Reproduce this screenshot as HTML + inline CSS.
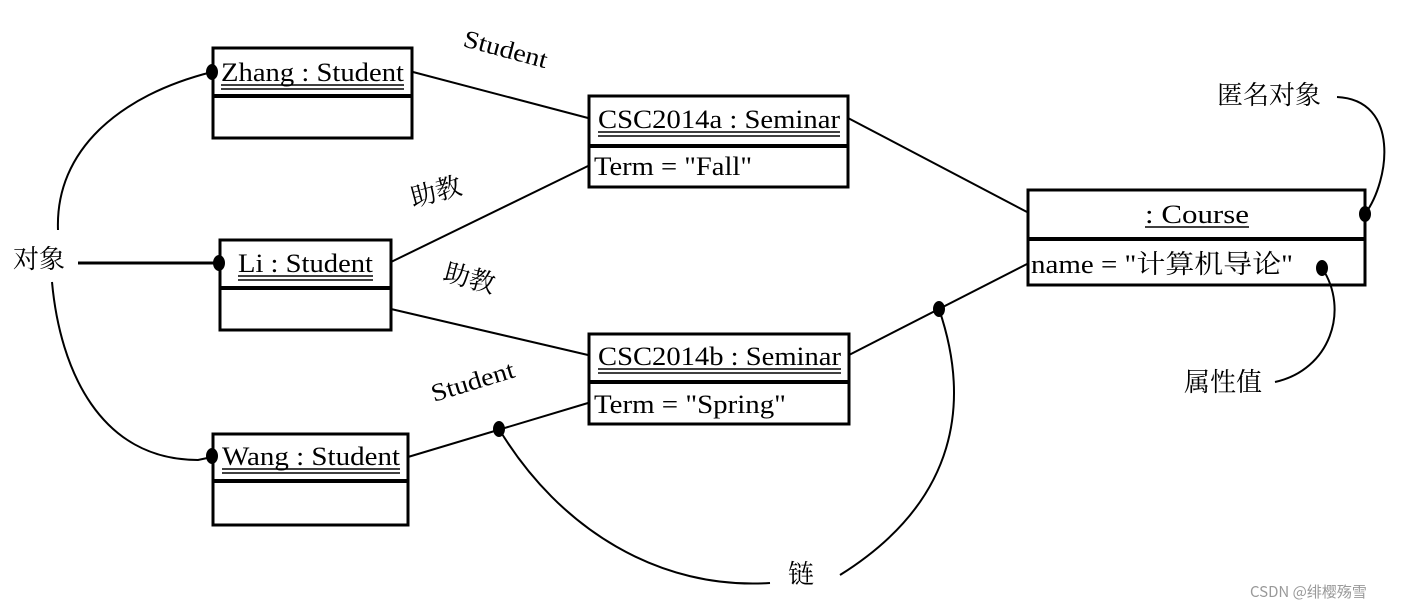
<!DOCTYPE html>
<html><head><meta charset="utf-8"><style>
html,body{margin:0;padding:0;background:#fff;width:1401px;height:609px;overflow:hidden}
svg{display:block}
text{font-family:"Liberation Serif","Noto Serif CJK SC","Noto Sans CJK SC",serif;fill:#000}
.cj{font-family:"Noto Sans CJK SC","WenQuanYi Zen Hei",sans-serif}
</style></head><body>
<svg width="1401" height="609" viewBox="0 0 1401 609" xmlns="http://www.w3.org/2000/svg">
<g fill="none" stroke="#000">
<!-- boxes -->
<rect x="213" y="48" width="199" height="90" stroke-width="3"/>
<line x1="213" y1="96" x2="412" y2="96" stroke-width="4"/>
<rect x="220" y="240" width="171" height="90" stroke-width="3"/>
<line x1="220" y1="288" x2="391" y2="288" stroke-width="4"/>
<rect x="213" y="434" width="195" height="91" stroke-width="3"/>
<line x1="213" y1="481" x2="408" y2="481" stroke-width="4"/>
<rect x="589" y="96" width="259" height="91" stroke-width="3"/>
<line x1="589" y1="146" x2="848" y2="146" stroke-width="4"/>
<rect x="589" y="334" width="260" height="90" stroke-width="3"/>
<line x1="589" y1="382" x2="849" y2="382" stroke-width="4"/>
<rect x="1028" y="190" width="337" height="95" stroke-width="3"/>
<line x1="1028" y1="239" x2="1365" y2="239" stroke-width="4"/>
<!-- links -->
<g stroke-width="2">
<line x1="413" y1="72" x2="588" y2="118"/>
<line x1="391" y1="262" x2="588" y2="166"/>
<line x1="391" y1="309" x2="588" y2="355"/>
<line x1="408" y1="457" x2="588" y2="403"/>
<line x1="848" y1="118" x2="1027" y2="212"/>
<line x1="849" y1="355" x2="1027" y2="264"/>
<!-- annotation curves -->
<path d="M58,230 C55,150 120,95 212,72"/>
<path d="M52,282 C60,370 100,460 198,460 L212,457"/>
<path d="M499,429 C560,530 660,590 770,583"/>
<path d="M939,309 C970,400 960,500 840,575"/>
<path d="M1337,97 C1400,100 1390,180 1365,214"/>
<path d="M1275,382 C1330,370 1350,310 1322,268"/>
</g>
<line x1="78" y1="263" x2="219" y2="263" stroke-width="3"/>
<!-- underlines -->
<g stroke-width="1.5">
<line x1="221" y1="85" x2="404" y2="85"/><line x1="221" y1="89" x2="404" y2="89"/>
<line x1="238" y1="276" x2="373" y2="276"/><line x1="238" y1="280" x2="373" y2="280"/>
<line x1="222" y1="469" x2="400" y2="469"/><line x1="222" y1="473" x2="400" y2="473"/>
<line x1="598" y1="132" x2="840" y2="132"/><line x1="598" y1="136" x2="840" y2="136"/>
<line x1="598" y1="369" x2="841" y2="369"/><line x1="598" y1="373" x2="841" y2="373"/>
<line x1="1145" y1="227" x2="1249" y2="227"/>
</g>
</g>
<g fill="#000">
<ellipse cx="212" cy="72" rx="6" ry="8"/>
<ellipse cx="219" cy="263" rx="6" ry="8"/>
<ellipse cx="212" cy="456" rx="6" ry="8"/>
<ellipse cx="499" cy="429" rx="6" ry="8"/>
<ellipse cx="939" cy="309" rx="6" ry="8"/>
<ellipse cx="1365" cy="214" rx="6" ry="8"/>
<ellipse cx="1322" cy="268" rx="6" ry="8"/>
</g>
<g font-size="26">
<text x="221" y="81" textLength="183" lengthAdjust="spacingAndGlyphs">Zhang : Student</text>
<text x="238" y="272" textLength="135" lengthAdjust="spacingAndGlyphs">Li : Student</text>
<text x="222" y="465" textLength="178" lengthAdjust="spacingAndGlyphs">Wang : Student</text>
<text x="598" y="128" textLength="242" lengthAdjust="spacingAndGlyphs">CSC2014a : Seminar</text>
<text x="594" y="175" textLength="158" lengthAdjust="spacingAndGlyphs">Term = "Fall"</text>
<text x="598" y="365" textLength="243" lengthAdjust="spacingAndGlyphs">CSC2014b : Seminar</text>
<text x="594" y="413" textLength="192" lengthAdjust="spacingAndGlyphs">Term = "Spring"</text>
<text x="1145" y="223" textLength="104" lengthAdjust="spacingAndGlyphs"> : Course</text>
<text x="1031" y="273" textLength="262" lengthAdjust="spacingAndGlyphs">name = "计算机导论"</text>
</g>
<g font-size="25">
<text x="462" y="46" transform="rotate(15 462 46)" textLength="86" lengthAdjust="spacingAndGlyphs">Student</text>
<text x="434" y="402" transform="rotate(-17 434 402)" textLength="86" lengthAdjust="spacingAndGlyphs">Student</text>
</g>
<g class="cj" font-size="26">
<text x="413" y="207" transform="rotate(-15 413 207)">助教</text>
<text x="442" y="280" transform="rotate(15 442 280)">助教</text>
<text x="13" y="268">对象</text>
<text x="1217" y="104">匿名对象</text>
<text x="1184" y="391">属性值</text>
<text x="788" y="583">链</text>
</g>
<text x="1250" y="597" class="cj" font-size="15" style="fill:#999">CSDN @绯樱殇雪</text>
</svg>
</body></html>
